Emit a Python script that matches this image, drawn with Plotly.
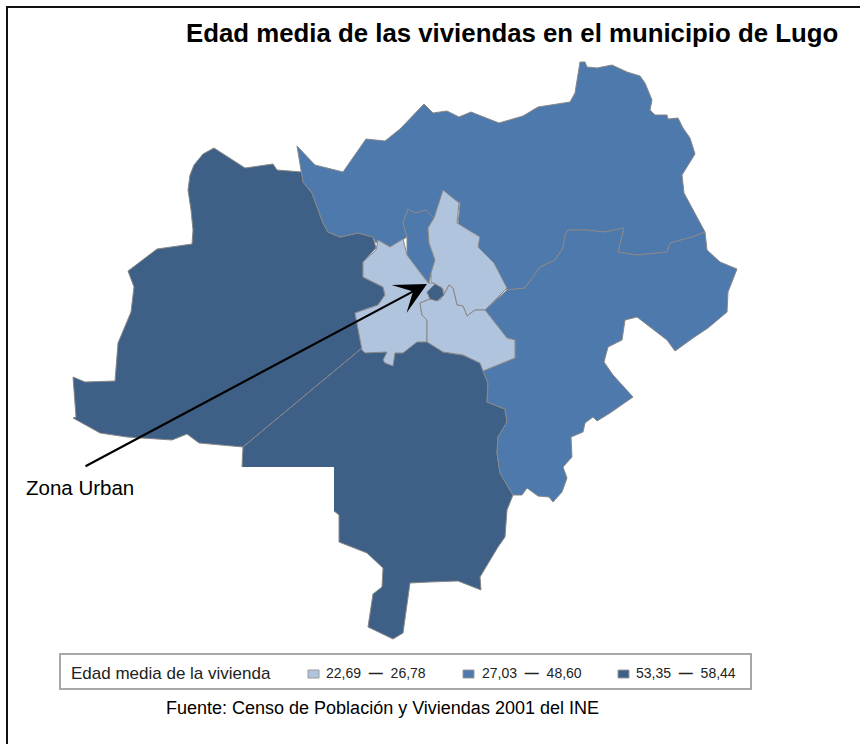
import plotly.graph_objects as go

COLOR_LIGHT = "#B0C4DE"
COLOR_MID = "#4D79AD"
COLOR_DARK = "#3F6086"
EDGE = "#888888"

TITLE = "Edad media de las viviendas en el municipio de Lugo"
SOURCE = "Fuente: Censo de Población y Viviendas 2001 del INE"
CALLOUT = "Zona Urban"
LEGEND_TITLE = "Edad media de la vivienda"
LEGEND_LOW = ["22,69", "27,03", "53,35"]
LEGEND_HIGH = ["26,78", "48,60", "58,44"]
LEGEND_COLORS = [COLOR_LIGHT, COLOR_MID, COLOR_DARK]
LEGEND_SWATCH_X = [308, 463, 618]
LEGEND_TEXT_X = [376, 532, 686]

OESTE = [(214,148),(203,154),(194,165),(190,175),(188,190),(191,210),(193,230),(192,244),(157,249),
         (128,271),(134,287),(131,312),(118,343),(115,381),(85,382),(73,377),(76,417),(73,418),(100,433),
         (127,437),(172,440),(187,434),(199,443),(243,447),(362,348),(355,313),(378,305),(385,295),(383,287),
         (363,277),(363,262),(376,248),(373,237),(358,233),(340,237),(328,232),(323,223),(312,193),(303,182),
         (302,172),(277,170),(273,164),(245,168)]
SUR = [(362,348),(395,345),(427,340),(443,352),
       (463,355),(480,363),(488,383),(487,402),(505,409),(507,422),(498,437),(497,453),(500,473),(513,495),
       (507,510),(505,537),(498,547),(480,577),(481,590),(458,581),(430,582),(410,583),(403,633),(393,639),
       (368,627),(373,594),(382,587),(383,568),(367,553),(339,542),(339,515),(334,511),(300,495),(242,467),(243,447)]
NORTE = [(297,146),(315,165),(343,172),(366,139),(385,141),(400,129),(424,104),(433,113),(447,111),(459,117),
         (471,112),(499,123),(523,116),(538,107),(570,102),(575,93),(580,62),(585,62),(587,67),(597,68),(612,65),
         (627,72),(640,76),(645,83),(652,100),(650,110),(655,115),(667,115),(668,119),(678,118),(683,128),(690,138),
         (695,154),(682,175),(684,193),(705,232),(692,237),(670,243),(667,252),(637,255),(618,252),(624,228),
         (605,232),(585,230),(568,230),(565,235),(563,248),(555,260),(540,267),(525,288),(507,290),(500,278),
         (495,265),(480,253),(478,242),(480,237),(458,225),(460,203),(444,193),(434,218),(426,210),(415,213),
         (408,209),(403,223),(407,237),(390,247),(378,240),(376,243),(373,237),(358,233),(340,237),(328,232),
         (323,223),(312,193),(303,182)]
FRANJA = [(434,218),(428,228),(429,243),(435,260),(431,273),(429,283),(418,270),(407,255),(407,237),(403,223),
          (408,209),(415,213),(426,210)]
ESTE = [(705,232),(707,250),(720,262),(737,269),(728,292),(727,312),(708,328),(693,338),(675,351),(667,340),
        (637,317),(625,320),(622,340),(608,347),(604,362),(613,375),(633,397),(610,413),(597,421),(593,417),
        (585,423),(583,432),(571,437),(572,457),(563,467),(567,478),(562,492),(553,502),(549,497),(538,496),
        (527,488),(522,495),(513,495),(500,473),(497,453),(498,437),(507,422),(505,409),(487,402),(488,383),
        (483,371),(515,358),(515,340),(507,338),(485,310),(507,290),(525,288),(540,267),(555,260),(563,248),
        (565,235),(568,230),(585,230),(605,232),(624,228),(618,252),(637,255),(667,252),(670,243),(692,237)]
URBANA_O = [(378,240),(390,247),(403,239),(407,255),(428,283),(436,283),(427,292),(430,299),(420,303),(422,315),(427,320),(427,342),(417,342),
            (403,353),(395,353),(393,366),(385,363),(383,360),(387,352),(365,353),(362,350),(355,313),(378,305),
            (385,295),(383,287),(363,277),(363,262),(376,250)]
URBANA_NE = [(443,190),(459,203),(457,223),(480,237),(478,247),(494,263),(507,288),(485,310),(475,310),(467,316),
             (463,306),(457,305),(453,288),(449,285),(445,293),(442,288),(435,284),(431,282),(431,273),(435,260),
             (429,243),(428,228),(434,218)]
URBANA_S = [(420,303),(430,299),(440,300),(445,293),(449,285),(453,288),(457,305),(463,306),(467,316),(475,310),
            (485,310),(507,338),(515,340),(515,358),(483,371),(480,363),(463,355),(443,352),(427,342),(427,320),
            (422,315)]
CENTRO = [(427,292),(435,284),(442,288),(444,295),(437,301),(430,299)]

REGIONS = [(OESTE, COLOR_DARK), (SUR, COLOR_DARK), (NORTE, COLOR_MID), (FRANJA, COLOR_MID), (ESTE, COLOR_MID),
           (URBANA_O, COLOR_LIGHT), (URBANA_NE, COLOR_LIGHT), (URBANA_S, COLOR_LIGHT), (CENTRO, COLOR_DARK)]

fig = go.Figure()
for pts, col in REGIONS:
    xs = [p[0] for p in pts] + [pts[0][0]]
    ys = [p[1] for p in pts] + [pts[0][1]]
    fig.add_trace(go.Scatter(x=xs, y=ys, mode="lines", fill="toself", fillcolor=col,
                             line=dict(color=EDGE, width=1), hoverinfo="skip", showlegend=False))

shapes = [
    dict(type="line", x0=6, x1=860, y0=7, y1=7, line=dict(color="#111111", width=2)),
    dict(type="line", x0=7, x1=7, y0=6, y1=744, line=dict(color="#111111", width=2)),
    dict(type="rect", x0=20, x1=334, y0=467, y1=512, fillcolor="white", line=dict(width=0), layer="above"),
    dict(type="rect", x0=60, x1=751, y0=654, y1=689, fillcolor="white", line=dict(color="#A8A8A8", width=2), layer="above"),
]
ann = [
    dict(x=511.5, y=33, text=f"<b>{TITLE}</b>", font=dict(size=25.8, color="black")),
    dict(x=79.5, y=487, text=CALLOUT, font=dict(size=20.5, color="black")),
    dict(x=382, y=708, text=SOURCE, font=dict(size=18, color="black")),
    dict(x=170.5, y=673, text=LEGEND_TITLE, font=dict(size=17, color="#222222")),
    dict(x=427, y=284, ax=84, ay=467, axref="x", ayref="y", xref="x", yref="y", text="", showarrow=True,
         arrowhead=3, arrowsize=2.4, arrowwidth=2.2, arrowcolor="black"),
]
for sx, tx, lo, hi, col in zip(LEGEND_SWATCH_X, LEGEND_TEXT_X, LEGEND_LOW, LEGEND_HIGH, LEGEND_COLORS):
    shapes.append(dict(type="rect", x0=sx, x1=sx+11, y0=670, y1=678, fillcolor=col,
                       line=dict(color="#9a9a9a", width=1), layer="above"))
    ann.append(dict(x=tx, y=673, text=f"{lo}  <b>—</b>  {hi}", font=dict(size=14, color="#222222")))
for a in ann:
    a.setdefault("showarrow", False)
    a.setdefault("xref", "x")
    a.setdefault("yref", "y")
    a["font"] = dict(family="Liberation Sans", **a.get("font", {}))

fig.update_layout(
    width=860, height=744, margin=dict(l=0, r=0, t=0, b=0), paper_bgcolor="white", plot_bgcolor="white",
    xaxis=dict(range=[0, 860], visible=False, fixedrange=True),
    yaxis=dict(range=[744, 0], visible=False, fixedrange=True),
    shapes=shapes, annotations=ann,
)
fig.write_html("out.html", config={"displayModeBar": False},
               post_script="document.body.style.margin='0';document.body.style.overflow='hidden';")
